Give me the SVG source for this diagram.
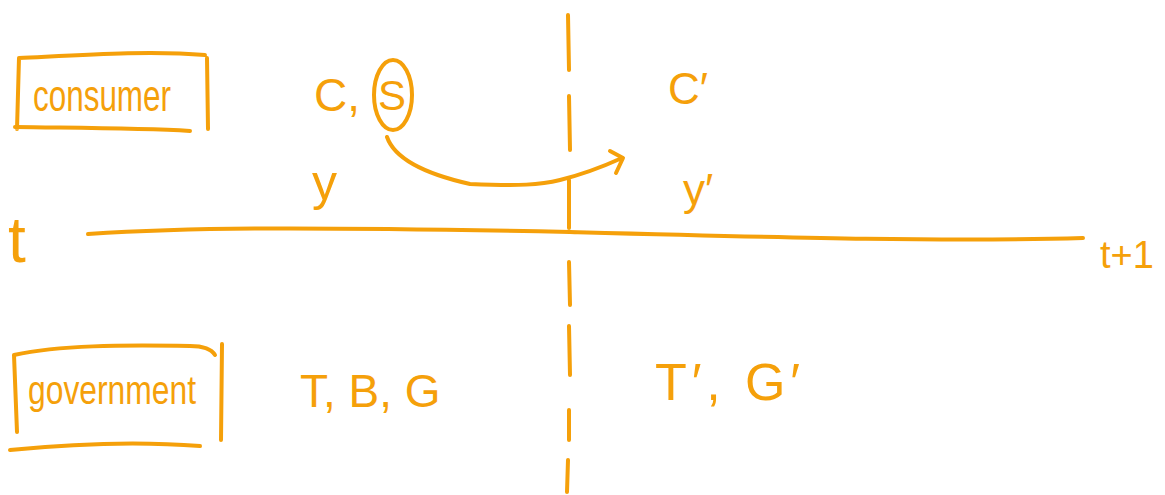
<svg xmlns="http://www.w3.org/2000/svg" width="1165" height="495" viewBox="0 0 1165 495">
<style>
.s{fill:none;stroke:#f5a00a;stroke-width:4;stroke-linecap:round;stroke-linejoin:round}
.t{fill:#f5a00a;font-family:"Liberation Sans",Arial,sans-serif}
</style>
<rect width="1165" height="495" fill="#ffffff"/>
<g id="consumer">
<path class="s" d="M19,58 C80,55 150,50 205,55 M19,58 L17,129 M15,127 C80,128 140,128 190,131 M207,58 L208,129"/>
<text class="t" x="33" y="111" font-size="44" textLength="138" lengthAdjust="spacingAndGlyphs">consumer</text>
</g>
<g id="government">
<path class="s" d="M14,355 C60,345 120,345 190,346 C205,346 212,350 215,355 M14,355 L17,432 M222,344 L221,440 M10,450 C80,443 150,442 200,446"/>
<text class="t" x="28" y="404" font-size="40" textLength="168" lengthAdjust="spacingAndGlyphs">government</text>
</g>
<g id="period1">
<text class="t" x="314" y="111" font-size="46">C,</text>
<text class="t" x="378" y="110" font-size="42">S</text>
<ellipse class="s" cx="393" cy="95" rx="19" ry="35" stroke-width="3"/>
<text class="t" x="312" y="200" font-size="50">y</text>
<text class="t" x="300" y="407" font-size="46">T, B, G</text>
</g>
<g id="period2">
<text class="t" x="668" y="104" font-size="44">C′</text>
<text class="t" x="683" y="205" font-size="44">y′</text>
<text class="t" x="655" y="400" font-size="52" textLength="145" lengthAdjust="spacing">T′, G′</text>
</g>
<g id="time">
<text class="t" x="8" y="262" font-size="64">t</text>
<text class="t" x="1100" y="268" font-size="38">t+1</text>
</g>
<g id="connectors">
<path class="s" d="M88,234 C180,228 280,226 570,232 C800,238 950,242 1083,238"/>
<path class="s" d="M568,15 L569,70 M569,96 L570,150 M569,180 L569,228 M569,262 L570,305 M569,326 L570,375 M569,410 L569,440 M568,460 L567,492"/>
<path class="s" d="M387,137 C395,160 430,175 470,184 C520,186 540,185 560,180 C580,175 600,168 622,158"/>
<path class="s" d="M610,151 L623,158 L616,173"/>
</g>
</svg>
